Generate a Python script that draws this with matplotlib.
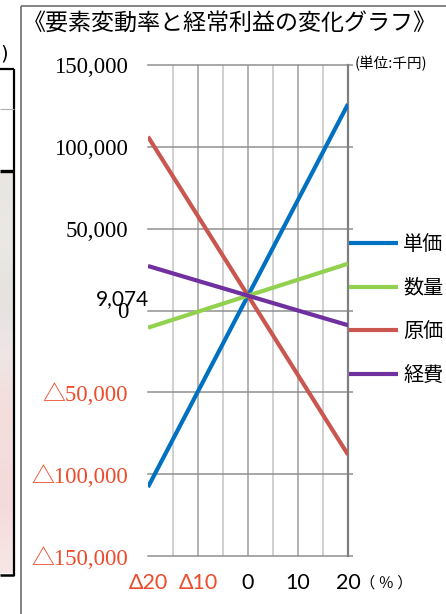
import matplotlib
matplotlib.use("Agg")
import matplotlib.pyplot as plt
from matplotlib.lines import Line2D
import numpy as np

# ---- data -------------------------------------------------------------
rates = [-20, -10, 0, 10, 20]                      # 変動率 (%)
series_names = ["単価", "数量", "原価", "経費"]
unit_price = [-107900, -49400, 9074, 67600, 126100]
quantity = [-10500, -700, 9074, 18800, 28600]
cost = [106200, 57600, 9074, -39500, -88100]
expenses = [27200, 18100, 9074, 0, -9000]
base_profit = 9074

y_ticks = [-150000, -100000, -50000, 0, 50000, 100000, 150000]
y_tick_labels = ["△150,000", "△100,000", "△50,000", "0", "50,000", "100,000", "150,000"]
x_ticks = [-20, -10, 0, 10, 20]
x_tick_labels = ["Δ20", "Δ10", "0", "10", "20"]

title = "《要素変動率と経常利益の変化グラフ》"
unit_note = "(単位:千円)"
pct_note = "（ ％ ）"

# ---- style ------------------------------------------------------------
series_colors = ["#0070C0", "#92D050", "#C9574F", "#7030A0"]
neg_color = "#EE4B2B"
grid_dark = "#8f8f8f"
grid_light = "#c4c4c4"
cjk = ["Noto Sans CJK JP", "DejaVu Sans"]
serif = ["Liberation Serif", "Noto Sans CJK JP"]
sans = ["Lato", "DejaVu Sans"]

W, H = 446, 614
fig = plt.figure(figsize=(W / 100, H / 100), dpi=100)


def fx(px):
    return px / W


def fy(py):
    return 1 - py / H


# ---- neighbouring sheet elements on the left ------------------------------
grad_ax = fig.add_axes([0, fy(573), fx(13), fy(172) - fy(573)])
stops = np.array([
    [0.91, 0.90, 0.89],
    [0.93, 0.92, 0.91],
    [0.88, 0.87, 0.86],
    [0.94, 0.92, 0.92],
    [0.95, 0.86, 0.86],
    [0.96, 0.88, 0.88],
    [0.95, 0.84, 0.85],
    [0.97, 0.90, 0.90],
])
grad_ax.imshow(stops.reshape(-1, 1, 3), aspect="auto", interpolation="bicubic")
grad_ax.set_axis_off()


def fig_line(x0, y0, x1, y1, color, lw):
    fig.add_artist(Line2D([fx(x0), fx(x1)], [fy(y0), fy(y1)], color=color,
                          lw=lw, transform=fig.transFigure, solid_capstyle="butt"))


fig_line(14, 69, 14, 576, "black", 1.6)
fig_line(0, 69, 14.5, 69, "black", 1.6)
fig_line(0, 109, 14, 109, "#b0b0b0", 0.8)
fig_line(0, 170.5, 14.5, 170.5, "black", 2.4)
fig_line(0, 575, 14.5, 575, "black", 1.8)
fig.text(fx(0), fy(54), ")", fontsize=14, va="center", ha="left", color="black")

# chart frame
fig_line(21, 6, 21, 614, "#6e6e6e", 1.2)
fig_line(21, 6, 446, 6, "#6e6e6e", 1.2)

# ---- main chart --------------------------------------------------------
ax = fig.add_axes([fx(148), fy(556), fx(348) - fx(148), fy(65) - fy(556)])
ax.set_xlim(-20, 20)
ax.set_ylim(-150000, 150000)

lines = []
for name, vals, col in zip(series_names, [unit_price, quantity, cost, expenses], series_colors):
    (ln,) = ax.plot(rates, vals, color=col, lw=3.0, label=name, zorder=3,
                    solid_capstyle="butt")
    lines.append(ln)

for s in ["top", "left", "bottom"]:
    ax.spines[s].set_visible(False)
ax.spines["right"].set_color("#7f7f7f")
ax.spines["right"].set_linewidth(1.6)

ax.set_yticks(y_ticks)
ax.set_yticklabels(y_tick_labels)
ax.tick_params(axis="y", which="both", left=False, right=True, labelleft=True,
               labelright=False, direction="out", length=3.8, width=1.1,
               color=grid_dark, pad=10.6, labelsize=16.5)
for lbl, v in zip(ax.get_yticklabels(), y_ticks):
    lbl.set_family(serif)
    lbl.set_color(neg_color if v < 0 else "black")

ax.set_xticks(x_ticks)
ax.set_xticks([-15, -5, 5, 15], minor=True)
ax.set_xticklabels(x_tick_labels)
ax.tick_params(axis="x", which="both", length=0, pad=12, labelsize=15.5)
for lbl, v in zip(ax.get_xticklabels(), x_ticks):
    lbl.set_family(sans)
    lbl.set_color(neg_color if v < 0 else "black")

ax.grid(axis="y", color=grid_dark, lw=1.1)
ax.grid(axis="x", which="major", color="#9e9e9e", lw=1.1)
ax.grid(axis="x", which="minor", color=grid_light, lw=1.1)
for gl in ax.get_ygridlines():
    gl.set_clip_on(False)
ax.get_xgridlines()[0].set_visible(False)
ax.get_xgridlines()[-1].set_visible(False)
ax.set_axisbelow(True)

# value at 0% change
ax.annotate(f"{base_profit:,}", xy=(-20, base_profit), xytext=(1, -2.5),
            textcoords="offset points", ha="right", va="center",
            fontsize=15, family=sans, color="black")

# legend on the right of the axis
ax.legend(handles=lines, loc="center left", bbox_to_anchor=(fx(349), fy(310)),
          bbox_transform=fig.transFigure, frameon=False, borderpad=0,
          borderaxespad=0, handlelength=2.45, handletextpad=0.25,
          labelspacing=1.12, prop={"family": cjk, "size": 14.5})

# titles and notes
fig.text(fx(23), fy(23), title, fontsize=16.6, family=cjk, va="center", ha="left")
fig.text(fx(355), fy(64), unit_note, fontsize=10.5, family=cjk, va="center", ha="left")
fig.text(fx(360), fy(583), pct_note, fontsize=11, family=cjk, va="center", ha="left")

fig.savefig("out.png", dpi=100)
